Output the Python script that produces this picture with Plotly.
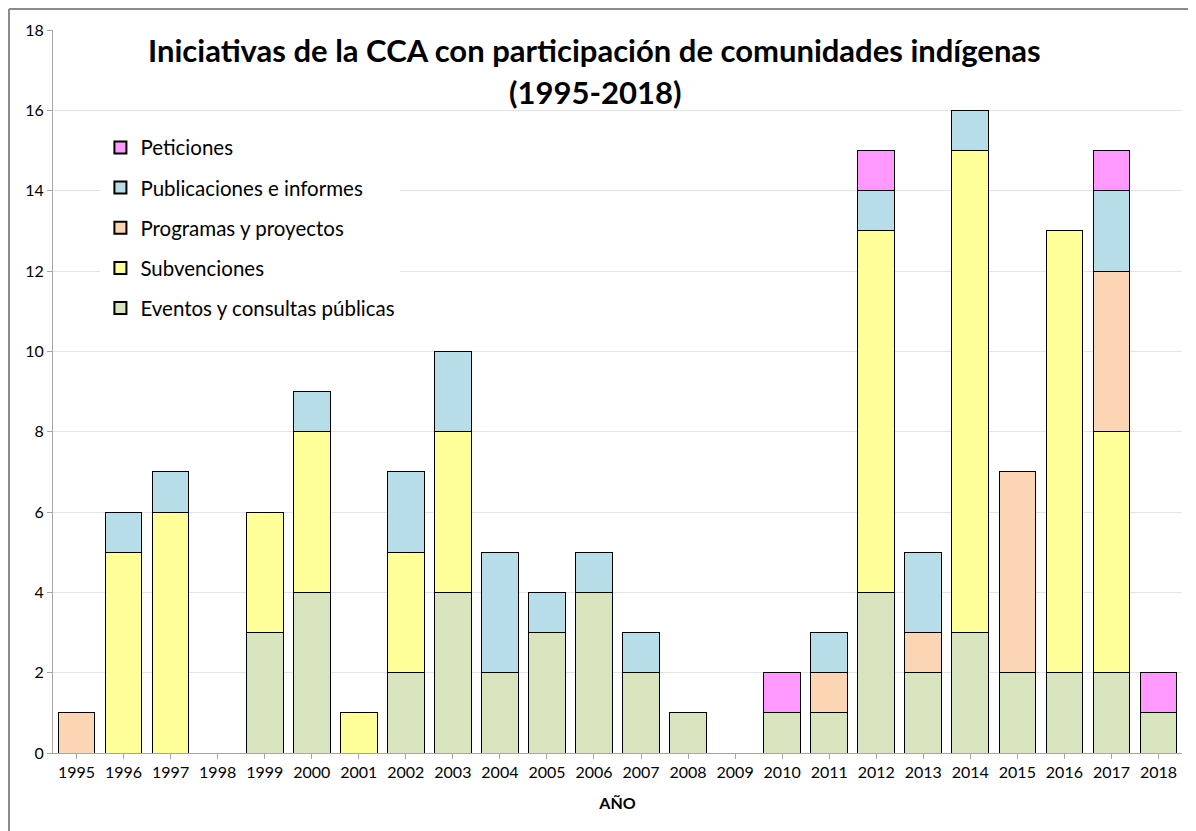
import plotly.graph_objects as go

years = [str(y) for y in range(1995, 2019)]
eventos = [0, 0, 0, 0, 3, 4, 0, 2, 4, 2, 3, 4, 2, 1, 0, 1, 1, 4, 2, 3, 2, 2, 2, 1]
subvenciones = [0, 5, 6, 0, 3, 4, 1, 3, 4, 0, 0, 0, 0, 0, 0, 0, 0, 9, 0, 12, 0, 11, 6, 0]
programas = [1, 0, 0, 0, 0, 0, 0, 0, 0, 0, 0, 0, 0, 0, 0, 0, 1, 0, 1, 0, 5, 0, 4, 0]
publicaciones = [0, 1, 1, 0, 0, 1, 0, 2, 2, 3, 1, 1, 1, 0, 0, 0, 1, 1, 2, 1, 0, 0, 2, 0]
peticiones = [0, 0, 0, 0, 0, 0, 0, 0, 0, 0, 0, 0, 0, 0, 0, 1, 0, 1, 0, 0, 0, 0, 1, 1]

series = [
    ("Eventos y consultas públicas", eventos, "#D7E4BD"),
    ("Subvenciones", subvenciones, "#FFFF99"),
    ("Programas y proyectos", programas, "#FCD5B5"),
    ("Publicaciones e informes", publicaciones, "#B7DEE8"),
    ("Peticiones", peticiones, "#FF99FF"),
]

FONT = "Lato, Calibri, sans-serif"

W, H = 1188, 823
L, R, T, B = 45, 14, 22, 78
PW, PH = W - L - R, H - T - B

fig = go.Figure()
for i, (name, vals, color) in enumerate(series):
    fig.add_trace(go.Bar(
        x=years, y=vals, name=name, legendgroup=f"g{i}",
        legendrank=100 - i,
        marker=dict(color=color, line=dict(color="#000000", width=1)),
    ))

fig.update_layout(
    barmode="stack",
    bargap=0.22,
    width=W, height=H,
    margin=dict(l=L, r=R, t=T, b=B, autoexpand=False),
    paper_bgcolor="white",
    plot_bgcolor="white",
    font=dict(family=FONT, size=16, color="#000000"),
    legend=dict(
        traceorder="grouped",
        x=0.042, y=0.865, xanchor="left", yanchor="top",
        bgcolor="white",
        font=dict(family=FONT, size=20.5),
        itemsizing="constant",
        tracegroupgap=10.5,
        itemwidth=30,
    ),
    xaxis=dict(
        type="category", automargin=False,
        showline=True, linecolor="#A6A6A6", linewidth=1,
        ticks="outside", ticklen=5, tickcolor="#A6A6A6",
        tickfont=dict(size=16),
        title=dict(text="<b>AÑO</b>", font=dict(size=16), standoff=17),
    ),
    yaxis=dict(
        range=[0, 18], dtick=2, automargin=False,
        showline=True, linecolor="#A6A6A6", linewidth=1,
        ticks="outside", ticklen=5, tickcolor="#A6A6A6",
        gridcolor="#E3E3E3", gridwidth=1,
        tickfont=dict(size=16),
        zeroline=False,
    ),
    annotations=[
        dict(
            text="<b>Iniciativas de la CCA con participación de comunidades indígenas</b>",
            xref="paper", yref="paper", x=0.480, y=(745 - 42) / PH,
            xanchor="center", yanchor="middle", showarrow=False,
            font=dict(family=FONT, size=31, color="#000000"),
        ),
        dict(
            text="<b>(1995-2018)</b>",
            xref="paper", yref="paper", x=0.480, y=(745 - 84) / PH,
            xanchor="center", yanchor="middle", showarrow=False,
            font=dict(family=FONT, size=31, color="#000000"),
        ),
    ],
    shapes=[
        dict(type="line", xref="paper", yref="paper",
             x0=(1 - L) / PW, x1=1.02, y0=(745 - 1) / PH, y1=(745 - 1) / PH,
             line=dict(color="#8C8C8C", width=2)),
        dict(type="line", xref="paper", yref="paper",
             x0=(1 - L) / PW, x1=(1 - L) / PW, y0=(745 - 1) / PH, y1=-0.12,
             line=dict(color="#8C8C8C", width=2)),
    ],
)

fig.write_html("out.html")
